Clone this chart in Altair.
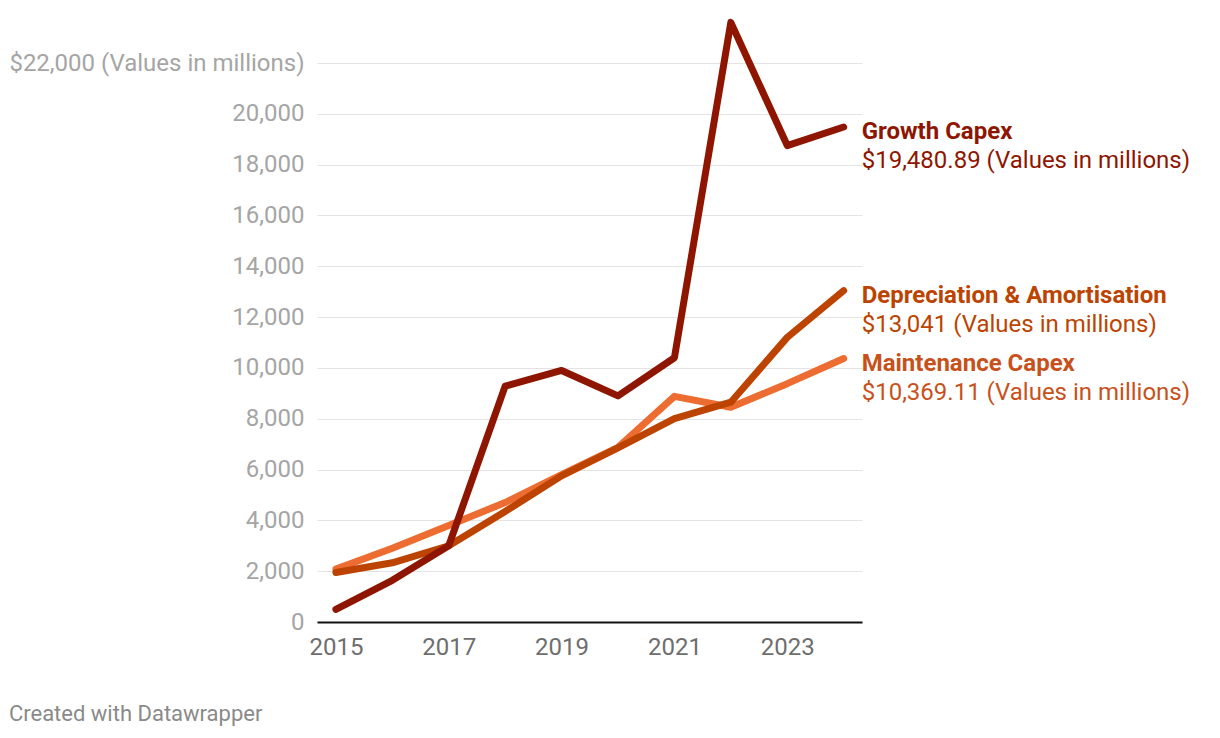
import altair as alt
import pandas as pd

years = [2015, 2016, 2017, 2018, 2019, 2020, 2021, 2022, 2023, 2024]
growth_capex = [500, 1640, 3000, 9280, 9900, 8900, 10400, 23600, 18750, 19480.89]
dep_amort = [1950, 2330, 3000, 4350, 5750, 6850, 8000, 8650, 11200, 13041]
maint_capex = [2080, 2900, 3800, 4700, 5800, 6870, 8880, 8450, 9380, 10369.11]

series_names = ["Maintenance Capex", "Depreciation & Amortisation", "Growth Capex"]
series_values = [maint_capex, dep_amort, growth_capex]
line_colors = ["#ec6c31", "#bd4400", "#8e1600"]
label_colors = ["#c8511b", "#bd4400", "#8e1600"]
value_labels = ["$10,369.11 (Values in millions)", "$13,041 (Values in millions)",
                "$19,480.89 (Values in millions)"]

rows = []
for name, vals in zip(series_names, series_values):
    for y, v in zip(years, vals):
        rows.append({"year": y, "value": v, "series": name})
df = pd.DataFrame(rows)

last = pd.DataFrame({
    "year": [years[-1]] * 3,
    "value": [v[-1] for v in series_values],
    "series": series_names,
    "vlabel": value_labels,
})

FONT = "Roboto"
FS = 24
x_enc = alt.X("year:Q", scale=alt.Scale(domain=[2014.665, 2024.325], nice=False, zero=False),
              axis=alt.Axis(values=[2015, 2017, 2019, 2021, 2023], format="d", ticks=False,
                            grid=False, domainColor="#111111", domainWidth=2,
                            labelFontSize=FS, labelColor="#6e6e6e", labelPadding=13,
                            labelFont=FONT, title=None))
y_enc = alt.Y("value:Q", scale=alt.Scale(domain=[0, 22000], nice=False),
              axis=alt.Axis(values=list(range(0, 22001, 2000)), ticks=False, domain=False,
                            gridColor="#e3e3e3", gridWidth=1, labelFontSize=FS,
                            labelColor="#a5a5a5", labelPadding=13, labelFont=FONT,
                            labelLimit=600,
                            labelExpr="datum.value == 22000 ? '$22,000 (Values in millions)' : format(datum.value, ',')",
                            title=None))

layers = []
for name, lc in zip(series_names, line_colors):
    layers.append(
        alt.Chart(df).transform_filter(alt.datum.series == name)
        .mark_line(strokeWidth=7, strokeCap="round", strokeJoin="round", color=lc)
        .encode(x=x_enc, y=y_enc)
    )

for name, tc in zip(series_names, label_colors):
    base = alt.Chart(last).transform_filter(alt.datum.series == name)
    layers.append(base.mark_text(align="left", baseline="middle", dx=18, dy=5,
                                 fontSize=FS, fontWeight="bold", font=FONT, color=tc)
                  .encode(x="year:Q", y="value:Q", text="series:N"))
    layers.append(base.mark_text(align="left", baseline="middle", dx=18, dy=34,
                                 fontSize=FS, font=FONT, color=tc)
                  .encode(x="year:Q", y="value:Q", text="vlabel:N"))

chart = alt.layer(*layers).properties(
    width=545, height=559,
    background="white",
    title=alt.TitleParams("Created with Datawrapper", orient="bottom", anchor="start",
                          frame="bounds", fontSize=22, font=FONT, fontWeight="normal",
                          color="#8a8a8a", offset=45),
    autosize=alt.AutoSizeParams(type="none"),
    padding={"left": 317, "top": 63, "right": 358, "bottom": 116},
).configure_view(strokeWidth=0, stroke=None)

chart.save("out.html", embed_options={"renderer": "svg", "actions": False})
